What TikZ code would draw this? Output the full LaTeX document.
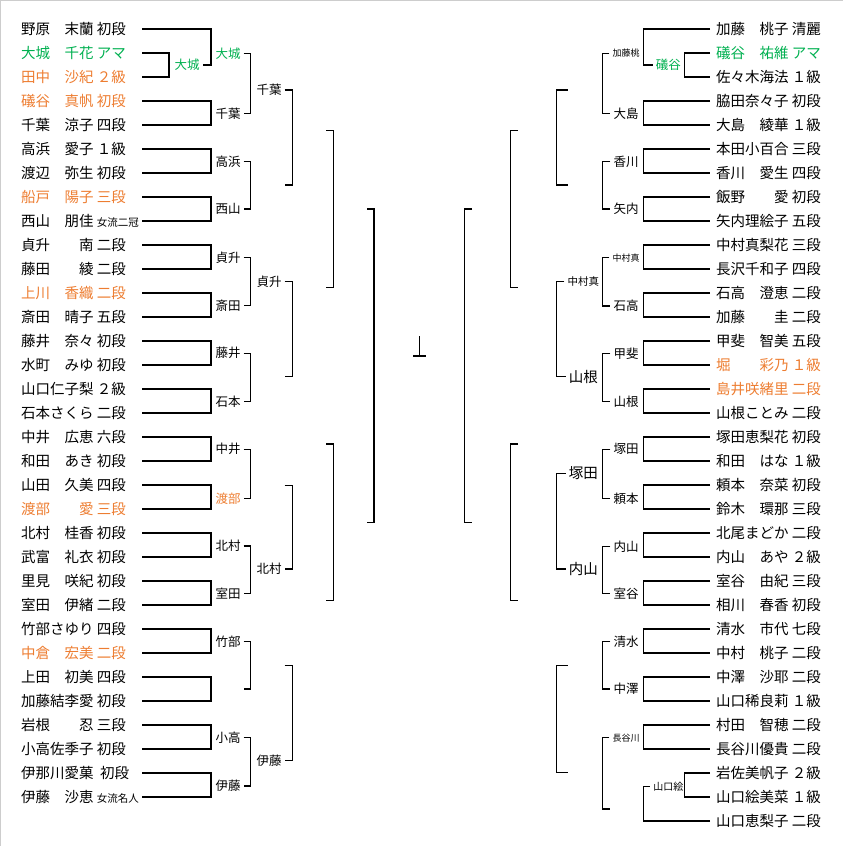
\documentclass[tikz,border=0pt]{standalone}
\usepackage{fontspec}
\setmainfont{Noto Sans CJK JP}
\usepackage{xcolor}
\definecolor{amagreen}{RGB}{0,176,80}
\definecolor{winorange}{RGB}{237,125,49}
\definecolor{framegray}{RGB}{205,205,205}
\usepackage{tikz}
\usetikzlibrary{positioning}
\newcommand{\plfont}{\fontsize{14.5}{17}\selectfont}
\newcommand{\wlfont}{\fontsize{12.5}{15}\selectfont}
\newcommand{\wsfont}{\fontsize{9}{11}\selectfont}
\newcommand{\rkfont}{\fontsize{10.5}{12}\selectfont}
\tikzset{
	player/.style={anchor=west, inner sep=0pt, font=\plfont},
	winner/.style={inner sep=3pt, font=\wlfont},
	bracket/.style={line width=1.25pt}
}

\begin{document}
\begin{tikzpicture}[x=1pt, y=-1pt]
		\newcommand{\rowstep}{24}
		\newcommand{\toprow}{29}
		\useasboundingbox (0,0) rectangle (843,846);
		\draw[framegray] (0.5,846) -- (0.5,0.5) -- (843,0.5);

		% bracket columns
		\coordinate (xa) at (142,0);
		\coordinate (xp) at (169,0);
		\coordinate (xb) at (211,0);
		\coordinate (xc) at (250.7,0);
		\coordinate (xd) at (292.3,0);
		\coordinate (ya) at (710,0);
		\coordinate (yp) at (684.3,0);
		\coordinate (yb) at (643.3,0);
		\coordinate (yc) at (602.7,0);
		\coordinate (yd) at (556.3,0);

		% left block players
		\node[player] (l0) at (21, \toprow + 0 * \rowstep) {野原　末蘭 初段};
		\node[player, text=amagreen] (l1) at (21, \toprow + 1 * \rowstep) {大城　千花 アマ};
		\node[player, text=winorange] (l2) at (21, \toprow + 2 * \rowstep) {田中　沙紀 ２級};
		\node[player, text=winorange] (l3) at (21, \toprow + 3 * \rowstep) {礒谷　真帆 初段};
		\node[player] (l4) at (21, \toprow + 4 * \rowstep) {千葉　涼子 四段};
		\node[player] (l5) at (21, \toprow + 5 * \rowstep) {高浜　愛子 １級};
		\node[player] (l6) at (21, \toprow + 6 * \rowstep) {渡辺　弥生 初段};
		\node[player, text=winorange] (l7) at (21, \toprow + 7 * \rowstep) {船戸　陽子 三段};
		\node[player] (l8) at (21, \toprow + 8 * \rowstep) {西山　朋佳 {\rkfont 女流二冠}};
		\node[player] (l9) at (21, \toprow + 9 * \rowstep) {貞升　　南 二段};
		\node[player] (l10) at (21, \toprow + 10 * \rowstep) {藤田　　綾 二段};
		\node[player, text=winorange] (l11) at (21, \toprow + 11 * \rowstep) {上川　香織 二段};
		\node[player] (l12) at (21, \toprow + 12 * \rowstep) {斎田　晴子 五段};
		\node[player] (l13) at (21, \toprow + 13 * \rowstep) {藤井　奈々 初段};
		\node[player] (l14) at (21, \toprow + 14 * \rowstep) {水町　みゆ 初段};
		\node[player] (l15) at (21, \toprow + 15 * \rowstep) {山口仁子梨 ２級};
		\node[player] (l16) at (21, \toprow + 16 * \rowstep) {石本さくら 二段};
		\node[player] (l17) at (21, \toprow + 17 * \rowstep) {中井　広恵 六段};
		\node[player] (l18) at (21, \toprow + 18 * \rowstep) {和田　あき 初段};
		\node[player] (l19) at (21, \toprow + 19 * \rowstep) {山田　久美 四段};
		\node[player, text=winorange] (l20) at (21, \toprow + 20 * \rowstep) {渡部　　愛 三段};
		\node[player] (l21) at (21, \toprow + 21 * \rowstep) {北村　桂香 初段};
		\node[player] (l22) at (21, \toprow + 22 * \rowstep) {武富　礼衣 初段};
		\node[player] (l23) at (21, \toprow + 23 * \rowstep) {里見　咲紀 初段};
		\node[player] (l24) at (21, \toprow + 24 * \rowstep) {室田　伊緒 二段};
		\node[player] (l25) at (21, \toprow + 25 * \rowstep) {竹部さゆり 四段};
		\node[player, text=winorange] (l26) at (21, \toprow + 26 * \rowstep) {中倉　宏美 二段};
		\node[player] (l27) at (21, \toprow + 27 * \rowstep) {上田　初美 四段};
		\node[player] (l28) at (21, \toprow + 28 * \rowstep) {加藤結李愛 初段};
		\node[player] (l29) at (21, \toprow + 29 * \rowstep) {岩根　　忍 三段};
		\node[player] (l30) at (21, \toprow + 30 * \rowstep) {小高佐季子 初段};
		\node[player] (l31) at (21, \toprow + 31 * \rowstep) {伊那川愛菓~~初段};
		\node[player] (l32) at (21, \toprow + 32 * \rowstep) {伊藤　沙恵 {\rkfont 女流名人}};

		% right block players
		\node[player] (r0) at (716, \toprow + 0 * \rowstep) {加藤　桃子 清麗};
		\node[player, text=amagreen] (r1) at (716, \toprow + 1 * \rowstep) {礒谷　祐維 アマ};
		\node[player] (r2) at (716, \toprow + 2 * \rowstep) {佐々木海法 １級};
		\node[player] (r3) at (716, \toprow + 3 * \rowstep) {脇田奈々子 初段};
		\node[player] (r4) at (716, \toprow + 4 * \rowstep) {大島　綾華 １級};
		\node[player] (r5) at (716, \toprow + 5 * \rowstep) {本田小百合 三段};
		\node[player] (r6) at (716, \toprow + 6 * \rowstep) {香川　愛生 四段};
		\node[player] (r7) at (716, \toprow + 7 * \rowstep) {飯野　　愛 初段};
		\node[player] (r8) at (716, \toprow + 8 * \rowstep) {矢内理絵子 五段};
		\node[player] (r9) at (716, \toprow + 9 * \rowstep) {中村真梨花 三段};
		\node[player] (r10) at (716, \toprow + 10 * \rowstep) {長沢千和子 四段};
		\node[player] (r11) at (716, \toprow + 11 * \rowstep) {石高　澄恵 二段};
		\node[player] (r12) at (716, \toprow + 12 * \rowstep) {加藤　　圭 二段};
		\node[player] (r13) at (716, \toprow + 13 * \rowstep) {甲斐　智美 五段};
		\node[player, text=winorange] (r14) at (716, \toprow + 14 * \rowstep) {堀　　彩乃 １級};
		\node[player, text=winorange] (r15) at (716, \toprow + 15 * \rowstep) {島井咲緒里 二段};
		\node[player] (r16) at (716, \toprow + 16 * \rowstep) {山根ことみ 二段};
		\node[player] (r17) at (716, \toprow + 17 * \rowstep) {塚田恵梨花 初段};
		\node[player] (r18) at (716, \toprow + 18 * \rowstep) {和田　はな １級};
		\node[player] (r19) at (716, \toprow + 19 * \rowstep) {頼本　奈菜 初段};
		\node[player] (r20) at (716, \toprow + 20 * \rowstep) {鈴木　環那 三段};
		\node[player] (r21) at (716, \toprow + 21 * \rowstep) {北尾まどか 二段};
		\node[player] (r22) at (716, \toprow + 22 * \rowstep) {内山　あや ２級};
		\node[player] (r23) at (716, \toprow + 23 * \rowstep) {室谷　由紀 三段};
		\node[player] (r24) at (716, \toprow + 24 * \rowstep) {相川　春香 初段};
		\node[player] (r25) at (716, \toprow + 25 * \rowstep) {清水　市代 七段};
		\node[player] (r26) at (716, \toprow + 26 * \rowstep) {中村　桃子 二段};
		\node[player] (r27) at (716, \toprow + 27 * \rowstep) {中澤　沙耶 二段};
		\node[player] (r28) at (716, \toprow + 28 * \rowstep) {山口稀良莉 １級};
		\node[player] (r29) at (716, \toprow + 29 * \rowstep) {村田　智穂 二段};
		\node[player] (r30) at (716, \toprow + 30 * \rowstep) {長谷川優貴 二段};
		\node[player] (r31) at (716, \toprow + 31 * \rowstep) {岩佐美帆子 ２級};
		\node[player] (r32) at (716, \toprow + 32 * \rowstep) {山口絵美菜 １級};
		\node[player] (r33) at (716, \toprow + 33 * \rowstep) {山口恵梨子 二段};

		% left qualifying match
		\node[winner, text=amagreen] (lp) at (187, 65) {大城};
		\draw[bracket] (l1 -| xa) -- (l1 -| xp) -- (l2 -| xp) -- (l2 -| xa);
		\draw[bracket] (l0 -| xa) -- (l0 -| xb) -- (lp -| xb) -- (lp.east);

		% left first round
		\foreach \a/\b in {3/4,5/6,7/8,9/10,11/12,13/14,15/16,17/18,19/20,21/22,23/24,25/26,27/28,29/30,31/32}
			\draw[bracket] (l\a -| xa) -- (l\a -| xb) -- (l\b -| xb) -- (l\b -| xa);
		\node[winner, text=amagreen] (lw0) at (228, 53.3) {大城};
		\node[winner] (lw1) at (228, 113.3) {千葉};
		\node[winner] (lw2) at (228, 161.7) {高浜};
		\node[winner] (lw3) at (228, 209) {西山};
		\node[winner] (lw4) at (228, 257.7) {貞升};
		\node[winner] (lw5) at (228, 305.7) {斎田};
		\node[winner] (lw6) at (228, 353.3) {藤井};
		\node[winner] (lw7) at (228, 401.7) {石本};
		\node[winner] (lw8) at (228, 449.3) {中井};
		\node[winner, text=winorange] (lw9) at (228, 498.3) {渡部};
		\node[winner] (lw10) at (228, 546) {北村};
		\node[winner] (lw11) at (228, 593.3) {室田};
		\node[winner] (lw12) at (228, 641.7) {竹部};
		\node[winner] (lw13) at (228, 689) {\phantom{竹部}};
		\node[winner] (lw14) at (228, 737.7) {小高};
		\node[winner] (lw15) at (228, 786) {伊藤};

		% left second round
		\foreach \a/\b in {0/1,2/3,4/5,6/7,8/9,10/11,12/13,14/15}
			\draw[bracket] (lw\a.east) -- (lw\a -| xc) -- (lw\b -| xc) -- (lw\b.east);
		\node[winner] (lv0) at (269, 90) {千葉};
		\node[winner] (lv1) at (269, 185) {\phantom{千葉}};
		\node[winner] (lv2) at (269, 281.7) {貞升};
		\node[winner] (lv3) at (269, 376.7) {\phantom{貞升}};
		\node[winner] (lv4) at (269, 485.7) {\phantom{北村}};
		\node[winner] (lv5) at (269, 569) {北村};
		\node[winner] (lv6) at (269, 665.7) {\phantom{伊藤}};
		\node[winner] (lv7) at (269, 760.7) {伊藤};

		% left third round
		\foreach \a/\b in {0/1,2/3,4/5,6/7}
			\draw[bracket] (lv\a.east) -- (lv\a -| xd) -- (lv\b -| xd) -- (lv\b.east);

		% left quarter and semi final
		\coordinate (lq0) at (326, 130.7);
		\coordinate (lq1) at (326, 287.3);
		\coordinate (lq2) at (326, 444);
		\coordinate (lq3) at (326, 600.7);
		\coordinate (ls0) at (367.3, 209);
		\coordinate (ls1) at (367.3, 522.3);
		\draw[bracket] (lq0) -- ++(7.3,0) |- (lq1);
		\draw[bracket] (lq2) -- ++(7.3,0) |- (lq3);
		\draw[bracket] (ls0) -- ++(6.7,0) |- (ls1);

		% final
		\coordinate (ft) at (419.3, 336);
		\coordinate (fb) at (419.3, 356);
		\coordinate (fl) at (413.3, 356);
		\coordinate (fr) at (425.7, 356);
		\draw[bracket] (ft) -- (fb);
		\draw[bracket] (fl) -- (fr);

		% right qualifying matches
		\node[winner, text=amagreen] (rp0) at (668.3, 65) {礒谷};
		\draw[bracket] (r1 -| ya) -- (r1 -| yp) -- (r2 -| yp) -- (r2 -| ya);
		\draw[bracket] (r0 -| ya) -- (r0 -| yb) -- (rp0 -| yb) -- (rp0.west);
		\node[winner, font=\fontsize{10}{12}\selectfont] (rp1) at (668.3, 786.7) {山口絵};
		\draw[bracket] (r31 -| ya) -- (r31 -| yp) -- (r32 -| yp) -- (r32 -| ya);
		\draw[bracket] (r33 -| ya) -- (r33 -| yb) -- (rp1 -| yb) -- (rp1.west);

		% right first round
		\foreach \a/\b in {3/4,5/6,7/8,9/10,11/12,13/14,15/16,17/18,19/20,21/22,23/24,25/26,27/28,29/30}
			\draw[bracket] (r\a -| ya) -- (r\a -| yb) -- (r\b -| yb) -- (r\b -| ya);
		\node[winner, font=\wsfont] (rw0) at (626, 53.3) {加藤桃};
		\node[winner] (rw1) at (626, 113.3) {大島};
		\node[winner] (rw2) at (626, 161.7) {香川};
		\node[winner] (rw3) at (626, 209) {矢内};
		\node[winner, font=\wsfont] (rw4) at (626, 257.7) {中村真};
		\node[winner] (rw5) at (626, 306) {石高};
		\node[winner] (rw6) at (626, 353.3) {甲斐};
		\node[winner] (rw7) at (626, 401.7) {山根};
		\node[winner] (rw8) at (626, 449.3) {塚田};
		\node[winner] (rw9) at (626, 498.3) {頼本};
		\node[winner] (rw10) at (626, 546.7) {内山};
		\node[winner] (rw11) at (626, 593.3) {室谷};
		\node[winner] (rw12) at (626, 641.7) {清水};
		\node[winner] (rw13) at (626, 689) {中澤};
		\node[winner, font=\wsfont] (rw14) at (626, 737.7) {長谷川};
		\node[winner] (rw15) at (626, 809) {\phantom{中澤}};

		% right second round
		\foreach \a/\b in {0/1,2/3,4/5,6/7,8/9,10/11,12/13,14/15}
			\draw[bracket] (rw\a.west) -- (rw\a -| yc) -- (rw\b -| yc) -- (rw\b.west);
		\node[winner] (rv0) at (583.3, 90) {\phantom{大島}};
		\node[winner] (rv1) at (583.3, 185) {\phantom{香川}};
		\node[winner, font=\fontsize{10.5}{12}\selectfont] (rv2) at (583.3, 281.7) {中村真};
		\node[winner, font=\plfont] (rv3) at (583.3, 376.7) {山根};
		\node[winner, font=\plfont] (rv4) at (583.3, 473.3) {塚田};
		\node[winner, font=\plfont] (rv5) at (583.3, 569) {内山};
		\node[winner] (rv6) at (583.3, 665.7) {\phantom{清水}};
		\node[winner] (rv7) at (583.3, 772.3) {\phantom{中澤}};

		% right third round
		\foreach \a/\b in {0/1,2/3,4/5,6/7}
			\draw[bracket] (rv\a.west) -- (rv\a -| yd) -- (rv\b -| yd) -- (rv\b.west);

		% right quarter and semi final
		\coordinate (rq0) at (518, 130.7);
		\coordinate (rq1) at (518, 287.3);
		\coordinate (rq2) at (518, 444);
		\coordinate (rq3) at (518, 600.7);
		\coordinate (rs0) at (472, 209);
		\coordinate (rs1) at (472, 522.3);
		\draw[bracket] (rq0) -- ++(-7.3,0) |- (rq1);
		\draw[bracket] (rq2) -- ++(-7.3,0) |- (rq3);
		\draw[bracket] (rs0) -- ++(-7.3,0) |- (rs1);

	\end{tikzpicture}
\end{document}
